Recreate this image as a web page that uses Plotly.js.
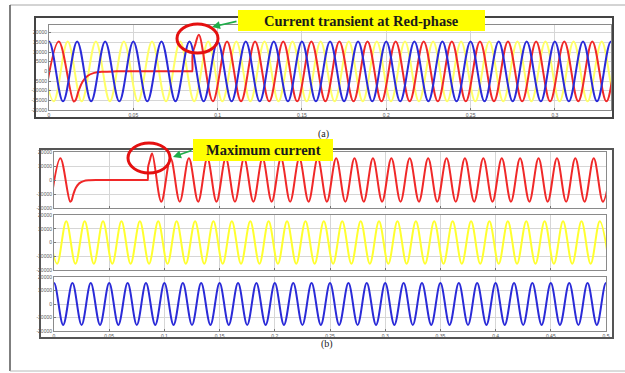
<!DOCTYPE html>
<html>
<head>
<meta charset="utf-8">
<script src="https://cdn.plot.ly/plotly-3.0.1.min.js"></script>
<style>
  html, body { margin: 0; padding: 0; background: #ffffff; }
  #chart { width: 625px; height: 373px; }
</style>
</head>
<body>
<div id="chart"></div>
<script>
// Three-phase line currents (A) against time (s): extremes of each half cycle,
// plus the open-phase decay and reclosing transient of the red phase.
const timeBlue = [
  -0.0083, 0, 0.0083, 0.0167, 0.025, 0.0333, 0.0417, 0.05, 0.0583, 0.0667,
  0.075, 0.0833, 0.0917, 0.1, 0.1083, 0.1167, 0.125, 0.1333, 0.1417, 0.15,
  0.1583, 0.1667, 0.175, 0.1833, 0.1917, 0.2, 0.2083, 0.2167, 0.225, 0.2333,
  0.2417, 0.25, 0.2583, 0.2667, 0.275, 0.2833, 0.2917, 0.3, 0.3083, 0.3167,
  0.325, 0.3333, 0.3417, 0.35, 0.3583, 0.3667, 0.375, 0.3833, 0.3917, 0.4,
  0.4083, 0.4167, 0.425, 0.4333, 0.4417, 0.45, 0.4583, 0.4667, 0.475, 0.4833,
  0.4917, 0.5, 0.5083
];
const currentBlue = [
  -15500, 15500, -15500, 15500, -15500, 15500, -15500, 15500, -15500, 15500,
  -15500, 15500, -15500, 15500, -15500, 15500, -15500, 15500, -15500, 15500,
  -15500, 15500, -15500, 15500, -15500, 15500, -15500, 15500, -15500, 15500,
  -15500, 15500, -15500, 15500, -15500, 15500, -15500, 15500, -15500, 15500,
  -15500, 15500, -15500, 15500, -15500, 15500, -15500, 15500, -15500, 15500,
  -15500, 15500, -15500, 15500, -15500, 15500, -15500, 15500, -15500, 15500,
  -15500, 15500, -15500
];

const timeYellow = [
  -0.0056, 0.0028, 0.0111, 0.0194, 0.0278, 0.0361, 0.0444, 0.0528, 0.0611, 0.0694,
  0.0778, 0.0861, 0.0944, 0.1028, 0.1111, 0.1194, 0.1278, 0.1361, 0.1444, 0.1528,
  0.1611, 0.1694, 0.1778, 0.1861, 0.1944, 0.2028, 0.2111, 0.2194, 0.2278, 0.2361,
  0.2444, 0.2528, 0.2611, 0.2694, 0.2778, 0.2861, 0.2944, 0.3028, 0.3111, 0.3194,
  0.3278, 0.3361, 0.3444, 0.3528, 0.3611, 0.3694, 0.3778, 0.3861, 0.3944, 0.4028,
  0.4111, 0.4194, 0.4278, 0.4361, 0.4444, 0.4528, 0.4611, 0.4694, 0.4778, 0.4861,
  0.4944, 0.5028
];
const currentYellow = [
  15500, -15500, 15500, -15500, 15500, -15500, 15500, -15500, 15500, -15500,
  15500, -15500, 15500, -15500, 15500, -15500, 15500, -15500, 15500, -15500,
  15500, -15500, 15500, -15500, 15500, -15500, 15500, -15500, 15500, -15500,
  15500, -15500, 15500, -15500, 15500, -15500, 15500, -15500, 15500, -15500,
  15500, -15500, 15500, -15500, 15500, -15500, 15500, -15500, 15500, -15500,
  15500, -15500, 15500, -15500, 15500, -15500, 15500, -15500, 15500, -15500,
  15500, -15500
];

const timeRed = [
  -0.0028, 0.0058, 0.0146, 0.0157, 0.0174, 0.0198, 0.0228, 0.0268, 0.0320, 0.0400,
  0.0846, 0.0849, 0.0852, 0.0868,
  0.0889, 0.0972, 0.1056, 0.1139, 0.1222, 0.1306, 0.1389, 0.1472, 0.1556, 0.1639,
  0.1722, 0.1806, 0.1889, 0.1972, 0.2056, 0.2139, 0.2222, 0.2306, 0.2389, 0.2472,
  0.2556, 0.2639, 0.2722, 0.2806, 0.2889, 0.2972, 0.3056, 0.3139, 0.3222, 0.3306,
  0.3389, 0.3472, 0.3556, 0.3639, 0.3722, 0.3806, 0.3889, 0.3972, 0.4056, 0.4139,
  0.4222, 0.4306, 0.4389, 0.4472, 0.4556, 0.4639, 0.4722, 0.4806, 0.4889, 0.4972,
  0.5056
];
const currentRed = [
  -15500, 15500, -15500, -15000, -10500, -5500, -2400, -800, -200, 0,
  0, 0, 9000, 14000,
  19000, -15500, 15500, -15500, 15500, -15500, 15500, -15500, 15500, -15500,
  15500, -15500, 15500, -15500, 15500, -15500, 15500, -15500, 15500, -15500,
  15500, -15500, 15500, -15500, 15500, -15500, 15500, -15500, 15500, -15500,
  15500, -15500, 15500, -15500, 15500, -15500, 15500, -15500, 15500, -15500,
  15500, -15500, 15500, -15500, 15500, -15500, 15500, -15500, 15500, -15500,
  15500
];

// Tick labels
const tickValsA = [0, 0.05, 0.1, 0.15, 0.2, 0.25, 0.3];
const tickTextA = ['0', '0.05', '0.1', '0.15', '0.2', '0.25', '0.3'];
const tickValsB = [0, 0.05, 0.1, 0.15, 0.2, 0.25, 0.3, 0.35, 0.4, 0.45, 0.5];
const tickTextB = ['0', '0.05', '0.1', '0.15', '0.2', '0.25', '0.3', '0.35', '0.4', '0.45', '0.5'];
const yValsA = [-20000, -15000, -10000, -5000, 0, 5000, 10000, 15000, 20000];
const yTextA = ['-20000', '-15000', '-10000', '-5000', '0', '5000', '10000', '15000', '20000'];
const yValsB = [-20000, -10000, 0, 10000, 20000];
const yTextB = ['-20000', '-10000', '0', '10000', '20000'];

const RED = '#f02828';
const YELLOW = '#ffff2e';
const YELLOW_PALE = '#ffff66';
const BLUE = '#2a2ad8';

// pixel -> paper helpers for a 625 x 373 canvas
const W = 625, H = 373;
const px = v => v / W;
const py = v => 1 - v / H;

function line(x, y, color, xa, ya) {
  return {
    type: 'scatter', mode: 'lines', x: x, y: y, xaxis: xa, yaxis: ya,
    line: { color: color, width: 2, shape: 'spline', smoothing: 1, simplify: false },
    hoverinfo: 'skip', showlegend: false
  };
}

const data = [
  line(timeYellow, currentYellow, YELLOW_PALE, 'x', 'y'),
  line(timeRed, currentRed, RED, 'x', 'y'),
  line(timeBlue, currentBlue, BLUE, 'x', 'y'),
  line(timeRed, currentRed, RED, 'x2', 'y2'),
  line(timeYellow, currentYellow, YELLOW, 'x3', 'y3'),
  line(timeBlue, currentBlue, BLUE, 'x4', 'y4')
];

const tickFont = { family: 'Liberation Sans, Arial, sans-serif', size: 5, color: '#555' };

function xAxis(domain, range, vals, text, anchor, showLabels) {
  return {
    domain: domain, range: range, anchor: anchor,
    tickmode: 'array', tickvals: vals, ticktext: text, showticklabels: showLabels,
    tickfont: tickFont, ticks: 'inside', ticklen: 2, tickcolor: '#777',
    showgrid: true, gridcolor: '#d6d6d6', gridwidth: 1, zeroline: false,
    showline: true, mirror: true, linecolor: '#8a8a8a', linewidth: 1, fixedrange: true
  };
}
function yAxis(domain, range, vals, text, anchor) {
  return {
    domain: domain, range: range, anchor: anchor,
    tickmode: 'array', tickvals: vals, ticktext: text,
    tickfont: tickFont, ticks: 'inside', ticklen: 2, tickcolor: '#777',
    showgrid: true, gridcolor: '#d6d6d6', gridwidth: 1, zeroline: false,
    showline: true, mirror: true, linecolor: '#8a8a8a', linewidth: 1, fixedrange: true
  };
}

const xDomA = [px(49), px(611)];
const xDomB = [px(54), px(606)];

const layout = {
  width: W, height: H,
  margin: { l: 0, r: 0, t: 0, b: 0 },
  paper_bgcolor: '#ffffff', plot_bgcolor: '#ffffff',
  showlegend: false,
  xaxis: xAxis(xDomA, [0, 0.3333], tickValsA, tickTextA, 'y', true),
  yaxis: yAxis([py(110), py(25)], [-20000, 24000], yValsA, yTextA, 'x'),
  xaxis2: xAxis(xDomB, [0, 0.5], tickValsB, tickTextB, 'y2', false),
  yaxis2: yAxis([py(208), py(152)], [-20000, 20000], yValsB, yTextB, 'x2'),
  xaxis3: xAxis(xDomB, [0, 0.5], tickValsB, tickTextB, 'y3', false),
  yaxis3: yAxis([py(270), py(215)], [-20000, 20000], yValsB, yTextB, 'x3'),
  xaxis4: xAxis(xDomB, [0, 0.5], tickValsB, tickTextB, 'y4', true),
  yaxis4: yAxis([py(331), py(277)], [-20000, 20000], yValsB, yTextB, 'x4'),
  shapes: [
    // page frame
    { type: 'line', xref: 'paper', yref: 'paper', x0: px(10), x1: px(625), y0: py(5), y1: py(5), line: { color: '#a8a8a8', width: 1 } },
    { type: 'line', xref: 'paper', yref: 'paper', x0: px(10), x1: px(10), y0: py(5), y1: py(371), line: { color: '#555', width: 1.5 } },
    { type: 'line', xref: 'paper', yref: 'paper', x0: px(10), x1: px(625), y0: py(371), y1: py(371), line: { color: '#b8b8b8', width: 1 } },
    // figure borders
    { type: 'rect', xref: 'paper', yref: 'paper', x0: px(35), x1: px(613), y0: py(118), y1: py(17), line: { color: '#444', width: 2 } },
    { type: 'rect', xref: 'paper', yref: 'paper', x0: px(40), x1: px(613), y0: py(338), y1: py(149), line: { color: '#555', width: 2 } },
    // callout boxes
    { type: 'rect', xref: 'paper', yref: 'paper', x0: px(238), x1: px(485), y0: py(31), y1: py(10), fillcolor: '#ffff00', line: { width: 0 } },
    { type: 'rect', xref: 'paper', yref: 'paper', x0: px(193), x1: px(333), y0: py(161), y1: py(139), fillcolor: '#ffff00', line: { width: 0 } },
    // highlight rings
    { type: 'circle', xref: 'paper', yref: 'paper', x0: px(177), x1: px(218), y0: py(53), y1: py(24), line: { color: '#e41010', width: 3 } },
    { type: 'circle', xref: 'paper', yref: 'paper', x0: px(128), x1: px(170), y0: py(173), y1: py(143), line: { color: '#e41010', width: 3 } }
  ],
  annotations: [
    { xref: 'paper', yref: 'paper', x: px(361), y: py(20.5), text: '<b>Current transient at Red-phase</b>', showarrow: false,
      font: { family: 'Liberation Serif, Times New Roman, serif', size: 14.5, color: '#1a1a1a' }, xanchor: 'center', yanchor: 'middle' },
    { xref: 'paper', yref: 'paper', x: px(263), y: py(150), text: '<b>Maximum current</b>', showarrow: false,
      font: { family: 'Liberation Serif, Times New Roman, serif', size: 14.5, color: '#1a1a1a' }, xanchor: 'center', yanchor: 'middle' },
    { xref: 'paper', yref: 'paper', x: px(212), y: py(27), ax: 26, ay: -6, text: '', showarrow: true,
      arrowhead: 2, arrowsize: 1, arrowwidth: 1.6, arrowcolor: '#1fae4a' },
    { xref: 'paper', yref: 'paper', x: px(173), y: py(157), ax: 20, ay: -7, text: '', showarrow: true,
      arrowhead: 2, arrowsize: 1, arrowwidth: 1.6, arrowcolor: '#1fae4a' },
    { xref: 'paper', yref: 'paper', x: px(323), y: py(134), text: '(a)', showarrow: false,
      font: { family: 'Liberation Serif, Times New Roman, serif', size: 10, color: '#222' } },
    { xref: 'paper', yref: 'paper', x: px(327), y: py(352), text: '(b)', showarrow: false,
      font: { family: 'Liberation Serif, Times New Roman, serif', size: 10, color: '#222' } }
  ]
};

Plotly.newPlot('chart', data, layout, { staticPlot: true, displayModeBar: false });
</script>
</body>
</html>
